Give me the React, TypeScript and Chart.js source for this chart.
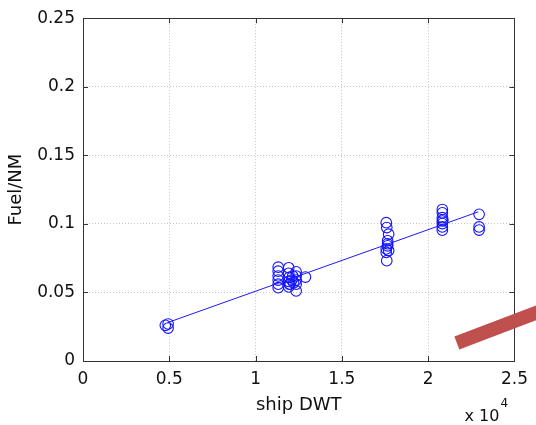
import React, { useEffect, useRef } from "react";
import { Chart, registerables } from "chart.js";

Chart.register(...registerables);

// Ship DWT (x 10^4) and fuel per nautical mile
const shipDwt = [
  0.477, 0.493, 0.493,
  1.131, 1.131, 1.131, 1.131, 1.131, 1.131,
  1.192, 1.192, 1.195, 1.192, 1.195, 1.192, 1.21, 1.215, 1.2, 1.22,
  1.235, 1.235, 1.235, 1.235, 1.235,
  1.289,
  1.757, 1.76, 1.771, 1.765, 1.765, 1.757, 1.757, 1.771, 1.765, 1.76,
  2.082, 2.082, 2.082, 2.082, 2.082, 2.082, 2.082, 2.085,
  2.295, 2.295, 2.295,
];
const fuelPerNm = [
  0.026, 0.027, 0.024,
  0.0684, 0.0655, 0.062, 0.059, 0.056, 0.0535,
  0.068, 0.064, 0.061, 0.058, 0.056, 0.054, 0.059, 0.062, 0.056, 0.057,
  0.065, 0.062, 0.059, 0.056, 0.0511,
  0.0612,
  0.1009, 0.0973, 0.0925, 0.0877, 0.084, 0.0817, 0.0792, 0.0805, 0.0855, 0.0732,
  0.1105, 0.1081, 0.1045, 0.1021, 0.1002, 0.0978, 0.0954, 0.103,
  0.107, 0.0978, 0.0955,
];

// Linear fit endpoints
const fitDwt = [0.49, 2.29];
const fitFuel = [0.028, 0.1088];

// Red highlight stroke (drawn in data space)
const highlightDwt = [2.166, 2.75];
const highlightFuel = [0.0131, 0.0411];

const xTickLabels = ["0", "0.5", "1", "1.5", "2", "2.5"];
const yTickLabels = ["0", "0.05", "0.1", "0.15", "0.2", "0.25"];

const FONT = "'DejaVu Sans', 'Liberation Sans', Arial, sans-serif";
const TICK_LEN = 5;

const matlabFrame = {
  id: "matlabFrame",
  beforeDatasetsDraw(chart: any) {
    const { ctx, chartArea: a, scales } = chart;
    const xs = scales.x;
    const ys = scales.y;
    ctx.save();
    ctx.strokeStyle = "#333";
    ctx.lineWidth = 1;
    ctx.beginPath();
    xs.ticks.forEach((t: any) => {
      const px = Math.round(xs.getPixelForValue(t.value)) + 0.5;
      ctx.moveTo(px, a.bottom);
      ctx.lineTo(px, a.bottom - TICK_LEN);
      ctx.moveTo(px, a.top);
      ctx.lineTo(px, a.top + TICK_LEN);
    });
    ys.ticks.forEach((t: any) => {
      const py = Math.round(ys.getPixelForValue(t.value)) + 0.5;
      ctx.moveTo(a.left, py);
      ctx.lineTo(a.left + TICK_LEN, py);
      ctx.moveTo(a.right, py);
      ctx.lineTo(a.right - TICK_LEN, py);
    });
    ctx.stroke();
    ctx.strokeRect(
      Math.round(a.left) + 0.5,
      Math.round(a.top) + 0.5,
      Math.round(a.right - a.left),
      Math.round(a.bottom - a.top)
    );
    ctx.restore();
  },
  afterDraw(chart: any) {
    const { ctx, chartArea: a } = chart;
    ctx.save();
    ctx.fillStyle = "#111";
    ctx.textBaseline = "alphabetic";
    ctx.textAlign = "right";
    ctx.font = `16px ${FONT}`;
    const xr = a.right - 15;
    ctx.fillText("x 10", xr, a.bottom + 60);
    ctx.textAlign = "left";
    ctx.font = `12px ${FONT}`;
    ctx.fillText("4", xr + 1, a.bottom + 46);
    ctx.restore();
  },
};

export default function App() {
  const canvasRef = useRef<HTMLCanvasElement | null>(null);

  useEffect(() => {
    const canvas = canvasRef.current;
    if (!canvas) return;
    const scatterPts = shipDwt.map((x, i) => ({ x, y: fuelPerNm[i] }));
    const fitPts = fitDwt.map((x, i) => ({ x, y: fitFuel[i] }));
    const hlPts = highlightDwt.map((x, i) => ({ x, y: highlightFuel[i] }));

    const chart = new Chart(canvas, {
      type: "scatter",
      data: {
        datasets: [
          {
            label: "highlight",
            data: hlPts,
            showLine: true,
            borderColor: "#c0504d",
            backgroundColor: "#c0504d",
            borderWidth: 14,
            borderCapStyle: "butt",
            pointRadius: 0,
            clip: false,
          } as any,
          {
            label: "fit",
            data: fitPts,
            showLine: true,
            borderColor: "#1a1aff",
            borderWidth: 1,
            pointRadius: 0,
          },
          {
            label: "data",
            data: scatterPts,
            pointStyle: "circle",
            pointRadius: 5.3,
            pointBorderWidth: 1.1,
            borderColor: "#1414ff",
            backgroundColor: "rgba(0,0,0,0)",
          } as any,
        ],
      },
      options: {
        responsive: false,
        animation: false,
        events: [],
        layout: { padding: { top: 15, right: 19, left: 0, bottom: 0 } },
        plugins: {
          legend: { display: false },
          tooltip: { enabled: false },
        },
        scales: {
          x: {
            type: "linear",
            min: 0,
            max: 2.5,
            afterFit: (s: any) => {
              s.height = 64;
            },
            ticks: {
              stepSize: 0.5,
              padding: 8,
              color: "#111",
              font: { family: FONT, size: 17 },
              callback: (_v: any, i: number) => xTickLabels[i],
            },
            grid: { color: "#c4c4c4", lineWidth: 1, drawTicks: false, tickLength: 0 },
            border: { display: false, dash: [1, 2] },
            title: {
              display: true,
              text: "ship DWT",
              color: "#111",
              font: { family: FONT, size: 18 },
              padding: { top: 0, bottom: 9 },
            },
          },
          y: {
            type: "linear",
            min: 0,
            max: 0.25,
            afterFit: (s: any) => {
              s.width = 83;
            },
            ticks: {
              stepSize: 0.05,
              padding: 8,
              color: "#111",
              font: { family: FONT, size: 17 },
              callback: (_v: any, i: number) => yTickLabels[i],
            },
            grid: { color: "#c4c4c4", lineWidth: 1, drawTicks: false, tickLength: 0 },
            border: { display: false, dash: [1, 2] },
            title: {
              display: true,
              text: "Fuel/NM",
              color: "#111",
              font: { family: FONT, size: 18 },
              padding: { top: 6, bottom: 0 },
            },
          },
        },
      } as any,
      plugins: [matlabFrame],
    });
    return () => chart.destroy();
  }, []);

  return (
    <div style={{ position: "absolute", left: 0, top: 0, width: 536, height: 425, background: "#fff" }}>
      <canvas ref={canvasRef} width={536} height={425} style={{ display: "block" }} />
    </div>
  );
}
